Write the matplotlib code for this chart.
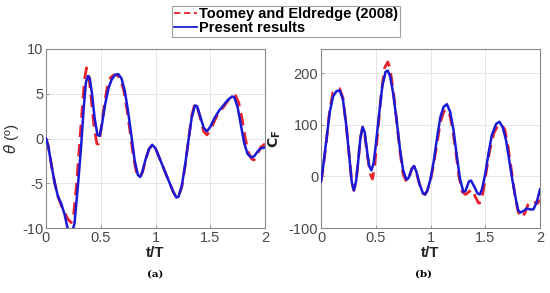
import matplotlib
matplotlib.use("Agg")
import matplotlib.pyplot as plt
from matplotlib.lines import Line2D

plt.rcParams["font.family"] = ["Liberation Sans", "DejaVu Sans"]

# ---- data (a): theta vs t/T ----
t_a_blue = [0.00,0.02,0.05,0.08,0.11,0.14,0.17,0.20,0.23,0.26,0.29,0.32,0.345,0.365,0.385,0.40,0.42,0.445,0.47,0.49,
            0.51,0.54,0.57,0.60,0.63,0.66,0.69,0.72,0.75,0.78,0.81,0.84,0.86,0.88,0.91,0.94,0.97,1.00,1.04,1.08,
            1.12,1.16,1.19,1.21,1.24,1.27,1.30,1.33,1.36,1.38,1.41,1.44,1.47,1.50,1.54,1.58,1.62,1.66,1.70,1.72,
            1.75,1.78,1.81,1.84,1.87,1.90,1.93,1.96,2.00]
th_blue = [0.0,-0.8,-3.0,-5.0,-6.5,-7.3,-8.5,-10.2,-10.8,-9.5,-5.5,-1.0,3.5,6.3,7.0,6.7,5.0,2.2,0.4,0.3,
           1.5,3.8,5.6,6.6,7.1,7.2,6.7,5.3,3.0,0.3,-2.5,-4.1,-4.3,-3.7,-2.3,-1.2,-0.7,-1.1,-2.3,-3.5,
           -4.7,-5.9,-6.6,-6.5,-5.3,-3.0,-0.3,2.3,3.7,3.6,2.4,1.2,0.8,1.3,2.3,3.1,3.7,4.3,4.7,4.6,
           3.5,1.5,-0.5,-1.7,-2.1,-2.0,-1.5,-1.1,-1.0]
t_a_red = [0.00,0.02,0.05,0.08,0.11,0.14,0.17,0.20,0.23,0.25,0.28,0.31,0.34,0.355,0.37,0.39,0.41,0.44,0.465,0.48,
           0.50,0.53,0.56,0.59,0.62,0.65,0.68,0.71,0.74,0.77,0.80,0.83,0.86,0.88,0.91,0.94,0.97,1.00,1.04,1.08,
           1.12,1.16,1.19,1.21,1.24,1.27,1.30,1.33,1.36,1.38,1.41,1.44,1.47,1.50,1.54,1.58,1.62,1.66,1.70,1.73,
           1.76,1.79,1.82,1.85,1.88,1.90,1.93,1.96,2.00]
th_red = [0.0,-0.8,-3.0,-5.0,-6.5,-7.5,-8.3,-9.0,-9.4,-8.8,-5.0,0.0,4.8,6.8,7.9,7.2,4.8,1.2,-0.6,-0.6,
          0.8,3.5,5.8,6.8,7.1,7.1,6.6,5.4,3.2,0.6,-2.2,-4.0,-4.3,-3.8,-2.4,-1.2,-0.7,-1.1,-2.3,-3.5,
          -4.7,-5.9,-6.6,-6.5,-5.4,-3.1,-0.3,2.5,3.9,3.6,2.2,0.8,0.4,0.9,2.0,3.0,3.5,4.2,4.7,4.8,
           4.0,2.2,0.0,-1.6,-2.3,-2.4,-1.8,-1.0,-0.6]

# ---- data (b): C_F vs t/T ----
t_b_blue = [0.00,0.02,0.05,0.08,0.11,0.14,0.17,0.20,0.23,0.26,0.28,0.30,0.32,0.34,0.36,0.38,0.40,0.42,0.44,0.46,
            0.48,0.50,0.53,0.56,0.59,0.61,0.63,0.66,0.69,0.72,0.75,0.78,0.80,0.83,0.85,0.87,0.90,0.93,0.95,0.97,
            1.00,1.03,1.06,1.09,1.12,1.15,1.18,1.21,1.24,1.27,1.30,1.32,1.35,1.37,1.40,1.43,1.45,1.47,1.50,1.53,
            1.56,1.60,1.63,1.66,1.69,1.72,1.75,1.78,1.80,1.82,1.85,1.88,1.91,1.94,1.97,2.00]
cf_blue = [-10,20,72,125,155,165,167,150,100,35,-10,-27,-10,30,75,96,85,50,20,12,
           25,60,120,175,203,205,195,160,110,55,12,-6,-3,15,20,10,-15,-32,-35,-28,
           -5,30,75,115,135,140,125,90,40,-5,-30,-28,-10,-8,-20,-33,-35,-25,5,45,
           80,102,106,95,70,30,-10,-45,-65,-70,-67,-62,-64,-64,-50,-25]
t_b_red = [0.00,0.02,0.05,0.08,0.11,0.14,0.17,0.20,0.23,0.26,0.28,0.30,0.32,0.34,0.36,0.38,0.40,0.42,0.45,0.47,
           0.49,0.52,0.55,0.58,0.61,0.63,0.66,0.69,0.72,0.75,0.78,0.80,0.83,0.85,0.87,0.90,0.93,0.95,0.97,1.00,
           1.03,1.06,1.09,1.12,1.14,1.17,1.20,1.23,1.26,1.29,1.32,1.35,1.38,1.41,1.44,1.46,1.48,1.51,1.54,1.58,
           1.62,1.65,1.68,1.71,1.74,1.77,1.80,1.83,1.86,1.89,1.92,1.95,1.98,2.00]
cf_red = [-10,15,70,130,163,167,170,152,100,35,-10,-27,-10,30,75,95,80,45,5,-5,
          20,90,160,210,222,210,165,110,50,5,-10,-5,15,20,8,-15,-33,-35,-28,-8,
          25,65,105,125,130,125,95,50,0,-30,-35,-30,-25,-40,-52,-50,-30,10,50,85,
          100,100,90,55,10,-35,-68,-80,-72,-55,-48,-50,-52,-45]

xticks = [0, 0.5, 1, 1.5, 2]
xticklabels = ["0", "0.5", "1", "1.5", "2"]
yticks_a = [-10, -5, 0, 5, 10]
yticks_b = [-100, 0, 100, 200]

RED = "#e8212a"
BLUE = "#1a1ad6"
TICKC = "#4a4a4a"

fig = plt.figure(figsize=(5.5, 2.93), dpi=100)
ax1 = fig.add_axes([46/550, 1-228/293, 219/550, 179/293])
ax2 = fig.add_axes([321/550, 1-228/293, 219/550, 179/293])

for ax in (ax1, ax2):
    ax.set_xlim(0, 2)
    ax.set_xticks(xticks)
    ax.set_xticklabels(xticklabels)
    ax.grid(True, color="#e6e6e6", linewidth=0.7)
    ax.set_axisbelow(True)
    ax.tick_params(direction="in", length=2.5, width=0.6, colors="#888888",
                   labelcolor=TICKC, labelsize=10.5, pad=2)
    for s in ax.spines.values():
        s.set_color("#888888")
        s.set_linewidth(0.8)
    ax.set_xlabel("t/T", fontsize=11, fontweight="bold", labelpad=1, color="#222222")

ax1.plot(t_a_red, th_red, color=RED, lw=2.0, dashes=(4.5, 2.5), zorder=2)
ax1.plot(t_a_blue, th_blue, color=BLUE, lw=1.8, zorder=3)
ax1.set_ylim(-10, 10)
ax1.set_yticks(yticks_a)
ax1.set_yticklabels([str(v) for v in yticks_a])
ax1.set_ylabel(r"$\theta$ (º)", fontsize=11, color="#333333")
ax1.yaxis.set_label_coords(-0.115, 0.5)

ax2.plot(t_b_red, cf_red, color=RED, lw=2.0, dashes=(4.5, 2.5), zorder=2)
ax2.plot(t_b_blue, cf_blue, color=BLUE, lw=1.8, zorder=3)
ax2.set_ylim(-100, 247)
ax2.set_yticks(yticks_b)
ax2.set_yticklabels([str(v) for v in yticks_b])
ax2.set_ylabel(r"$\mathbf{C_F}$", fontsize=10, color="#222222", labelpad=4)

handles = [Line2D([], [], color=RED, lw=1.3, dashes=(3.5, 2.0)),
           Line2D([], [], color=BLUE, lw=1.3)]
leg = fig.legend(handles, ["Toomey and Eldredge (2008)", "Present results"],
                 loc="upper center", bbox_to_anchor=(286/550, 1-6/293),
                 ncol=1, frameon=True, fancybox=False, handlelength=1.6,
                 handletextpad=0.15, borderpad=0.1, borderaxespad=0.0, labelspacing=0.0,
                 prop={"weight": "bold", "size": 10.5})
leg.get_frame().set_edgecolor("#888888")
leg.get_frame().set_linewidth(0.8)

fig.text(155/550, 1-274/293, "(a)", ha="center", va="center", fontsize=7.5,
         fontweight="bold", family="DejaVu Serif")
fig.text(423/550, 1-274/293, "(b)", ha="center", va="center", fontsize=7.5,
         fontweight="bold", family="DejaVu Serif")

fig.savefig("out.png", dpi=100)
